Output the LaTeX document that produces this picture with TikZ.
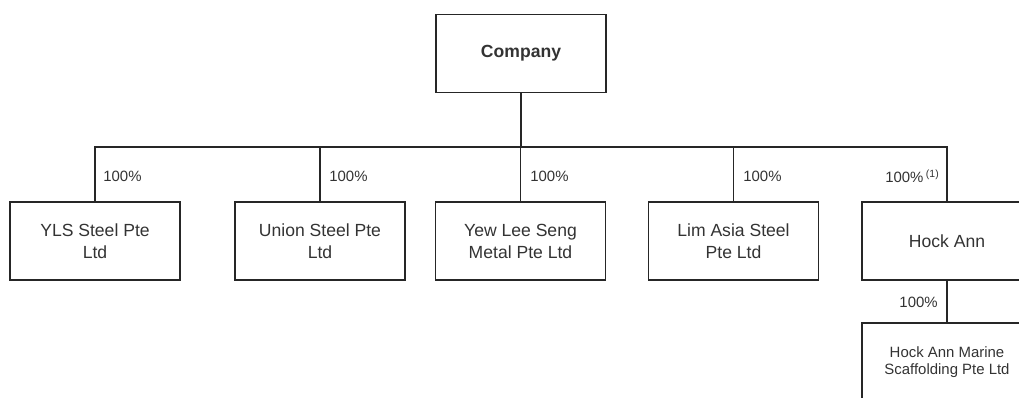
\documentclass[tikz,border=0pt]{standalone}
\usepackage{fontspec}
\setmainfont{Liberation Sans}
\begin{document}
\begin{tikzpicture}
    [x=0.02cm, y=-0.02cm,
    entity/.style={draw=black!85, line width=0.7pt, minimum width=3.4cm, minimum height=1.56cm, inner sep=1pt, align=center, font=\fontsize{10}{12.5}\selectfont, text=black!80},
    small/.style={entity, font=\fontsize{8.5}{10}\selectfont},
    link/.style={black!85, line width=0.7pt},
    share/.style={font=\fontsize{8.5}{10}\selectfont, text=black!80, inner sep=0pt}]

    \useasboundingbox (0,0) rectangle (1019,397);
    \clip (0,0) rectangle (1019,397);

    \node[entity, font=\bfseries\fontsize{10}{12}\selectfont] (company) at (521,53.5) {Company};

    \node[entity] (yls) at (95,241) {YLS Steel Pte\\Ltd};
    \node[entity] (union) at (320,241) {Union Steel Pte\\Ltd};
    \node[entity] (yew) at (520.5,241) {Yew Lee Seng\\Metal Pte Ltd};
    \node[entity] (lim) at (733.5,241) {Lim Asia Steel\\Pte Ltd};
    \node[entity] (hock) at (947,241) {Hock Ann};
    \node[small] (marine) at (947,362) {Hock Ann Marine\\Scaffolding Pte Ltd};

    % ownership lines
    \coordinate (bus) at (521,147);
    \draw[link] (company.south) -- (bus);
    \foreach \sub in {yls,union,yew,lim,hock}
        \draw[link] (bus) -| (\sub.north);
    \draw[link] (hock.south) -- (marine.north);

    \node[share, anchor=west] (pyls) at (103,176) {100\%};
    \node[share, anchor=west] (punion) at (329,176) {100\%};
    \node[share, anchor=west] (pyew) at (530,176) {100\%};
    \node[share, anchor=west] (plim) at (743,176) {100\%};
    \node[share, anchor=east] (phock) at (940,176) {100\%\,\textsuperscript{(1)}};
    \node[share, anchor=east] (pmarine) at (938,302.5) {100\%};

\end{tikzpicture}
\end{document}
